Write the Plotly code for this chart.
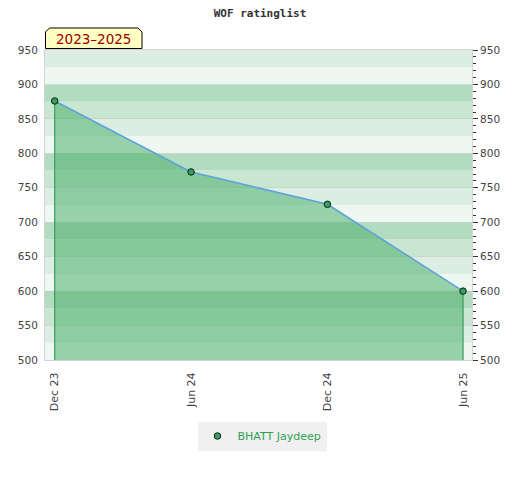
import plotly.graph_objects as go

# ---- data ----
dates = ["2023-12-01", "2024-06-01", "2024-12-01", "2025-06-01"]
tick_labels = ["Dec 23", "Jun 24", "Dec 24", "Jun 25"]
ratings = [876, 773, 726, 600]
player = "BHATT Jaydeep"
period_label = "2023–2025"
title_text = "WOF ratinglist"

Y_MIN, Y_MAX = 500, 950
X_RANGE = ["2023-11-18", "2025-06-13"]

# layout geometry (px); page body adds an 8px offset
OFF = 8
W, H = 520, 480
ML, MR, MT, MB = 45 - OFF, 48 + OFF, 50 - OFF, 120 + OFF
PW, PH = W - ML - MR, H - MT - MB


def px_x(p):
    return (p - OFF - ML) / PW


def px_y(p):
    return (H - MB - (p - OFF)) / PH


band_colors = ["#eff7f2", "#dcede3", "#c8e6d2", "#b2dcc0"]

fig = go.Figure()

# area + line
fig.add_trace(go.Scatter(
    x=dates, y=ratings, mode="lines",
    line=dict(color="#5ba3d9", width=1.5),
    fill="tozeroy", fillcolor="rgba(73,176,106,0.53)",
    showlegend=False, hoverinfo="skip",
))

# vertical lines at first and last point
fig.add_trace(go.Scatter(
    x=[dates[0], dates[0], None, dates[-1], dates[-1]],
    y=[Y_MIN, ratings[0], None, Y_MIN, ratings[-1]],
    mode="lines", line=dict(color="#3a9e5c", width=1.2),
    showlegend=False, hoverinfo="skip",
))

# markers (legend entry)
fig.add_trace(go.Scatter(
    x=dates, y=ratings, mode="markers", name=player,
    marker=dict(size=6.5, color="#2ea457", line=dict(color="#1a1a1a", width=1)),
))

# invisible trace for right axis
fig.add_trace(go.Scatter(
    x=dates, y=ratings, yaxis="y2", mode="markers",
    marker=dict(opacity=0), showlegend=False, hoverinfo="skip",
))

shapes = []
for v in range(Y_MIN, Y_MAX, 25):
    shapes.append(dict(
        type="rect", xref="paper", yref="y", x0=0, x1=1, y0=v, y1=v + 25,
        fillcolor=band_colors[(v // 25) % 4], line=dict(width=0), layer="below",
    ))

# label box with chamfered top corners
bx0, bx1, by0, by1, c = 45.5, 142, 28, 48.5, 4
pts = [(bx0, by1), (bx0, by0 + c), (bx0 + c, by0), (bx1 - c, by0), (bx1, by0 + c), (bx1, by1)]
path = "M " + " L ".join(f"{px_x(a):.5f},{px_y(b):.5f}" for a, b in pts) + " Z"
shapes.append(dict(
    type="path", xref="paper", yref="paper", path=path,
    fillcolor="#ffffc4", line=dict(color="#000000", width=1), layer="above",
))

fig.update_layout(
    width=W, height=H,
    margin=dict(l=ML, r=MR, t=MT, b=MB, autoexpand=False),
    paper_bgcolor="white", plot_bgcolor="white",
    shapes=shapes,
    title=dict(
        text=title_text, x=(260 - OFF) / W, xanchor="center", xref="container",
        y=1 - (13 - OFF) / H, yanchor="middle", yref="container",
        font=dict(family="DejaVu Sans Mono", size=11, color="#333333", weight="bold"),
    ),
    font=dict(family="DejaVu Sans", size=10, color="#444444"),
    xaxis=dict(
        type="date", range=X_RANGE, automargin=False,
        tickmode="array", tickvals=dates, ticktext=tick_labels,
        tickangle=-90, ticks="", showgrid=False, zeroline=False,
        showline=True, linecolor="#d4d4d4", linewidth=1, mirror=True,
        ticklabelstandoff=7,
        tickfont=dict(size=11, color="#444444"),
    ),
    yaxis=dict(
        range=[Y_MIN, Y_MAX], dtick=50, tick0=500, automargin=False,
        ticks="", showgrid=True, gridcolor="rgba(190,190,190,0.45)", gridwidth=1,
        zeroline=False, showline=True, linecolor="#d4d4d4", linewidth=1, mirror=True,
        ticklabelstandoff=4,
        tickfont=dict(size=10.5, color="#444444"),
    ),
    yaxis2=dict(
        range=[Y_MIN, Y_MAX], dtick=50, tick0=500, overlaying="y", side="right",
        automargin=False,
        ticks="outside", ticklen=5, tickcolor="#333333", tickwidth=1,
        minor=dict(dtick=10, ticks="outside", ticklen=3, tickcolor="#333333", tickwidth=1),
        showgrid=False, zeroline=False, showline=False,
        tickfont=dict(size=10.5, color="#444444"),
    ),
    legend=dict(
        orientation="h", x=px_x(262), xanchor="center", y=px_y(436), yanchor="middle",
        bgcolor="#f0f0f0", font=dict(family="DejaVu Sans", size=11, color="#2ea055"),
        itemwidth=30, borderwidth=0,
    ),
    showlegend=True,
    annotations=[dict(
        text=period_label, xref="paper", yref="paper",
        x=px_x((bx0 + bx1) / 2), y=px_y((by0 + by1) / 2 + 0.5),
        xanchor="center", yanchor="middle", showarrow=False,
        font=dict(family="DejaVu Sans", size=13.5, color="#990000"),
    )],
)

fig.write_html("out.html")
